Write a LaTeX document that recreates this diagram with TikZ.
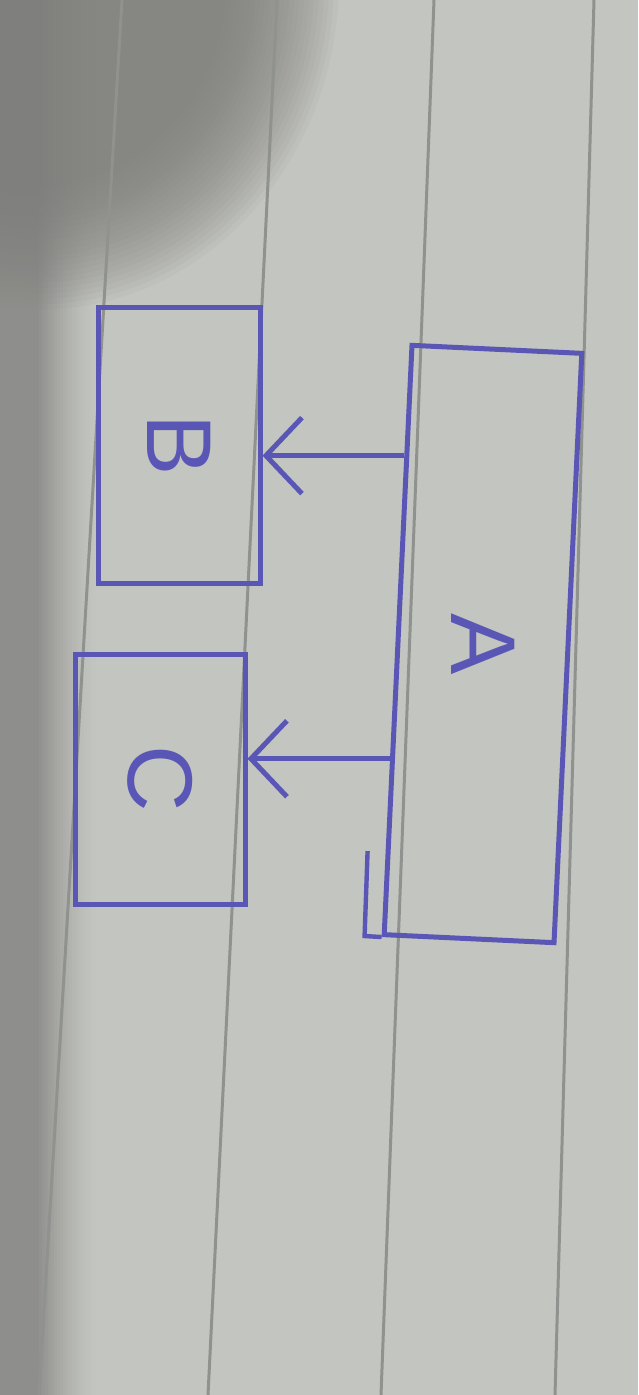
\documentclass[tikz,border=0pt]{standalone}
\usepackage{fontspec}
\usepackage{graphicx}
\setmainfont{Liberation Sans}
\usetikzlibrary{arrows.meta,calc}
\definecolor{paper}{HTML}{C3C5C0}
\definecolor{shadowc}{HTML}{7D7D7B}
\definecolor{rulec}{HTML}{8F928E}
\definecolor{ink}{HTML}{5A56B6}
\begin{document}
\begin{tikzpicture}[x=1pt,y=1pt,
  box/.style={draw=ink, line width=5pt, inner sep=0pt, text=ink,
    font=\fontsize{92}{92}\selectfont},
  conn/.style={draw=ink, line width=5pt,
    -{Straight Barb[length=36pt,width=76pt]}},
  inkstroke/.style={draw=ink, line width=4.4pt},
  ruleline/.style={draw=rulec, line width=3pt}]
\useasboundingbox (0,0) rectangle (638,-1395);
\begin{scope}
  \clip (0,0) rectangle (638,-1395);
  \fill[paper] (0,0) rectangle (638,-1395);
  % shadow of the hand at the top left
  \foreach \s in {0.76,0.78,...,1.23}
    \fill[shadowc, opacity=0.065] (40,20) ellipse [x radius=245*\s, y radius=270*\s];
  % darker strip along the left edge
  \fill[shadowc, opacity=0.75] (0,0) rectangle (36,-1395);
  \foreach \k in {0,...,19}
    \fill[shadowc, opacity={0.75*(1-\k/20)^1.5}] (36+3*\k,0) rectangle (39+3*\k,-1395);
\end{scope}
% ruled lines of the paper
\draw[ruleline] (122,0) -- (39,-1395);
\draw[ruleline] (277,0) -- (208,-1395);
\draw[ruleline] (434,0) -- (381,-1395);
\draw[ruleline] (594,0) -- (555,-1395);
% boxes
\node[box, minimum width=170pt, minimum height=590pt, rotate=-2.7] (A) at (483,-644) {\rotatebox{-87.3}{A}};
\node[box, minimum width=162pt, minimum height=276pt] (B) at (179,-445) {\rotatebox{-90}{B}};
\node[box, minimum width=170pt, minimum height=250pt] (C) at (160,-779) {\rotatebox{-90}{C}};
% extra pen stroke at the lower left corner of A
\draw[inkstroke] (A.south west) -- ++(-17,1) -- ++(3,85);
% connectors
\coordinate (a1) at ($(A.north west)!0.19!(A.south west)$);
\coordinate (a2) at ($(A.north west)!0.70!(A.south west)$);
\draw[conn] (a1) -- (a1 -| B.east);
\draw[conn] (a2) -- (a2 -| C.east);
\end{tikzpicture}
\end{document}
